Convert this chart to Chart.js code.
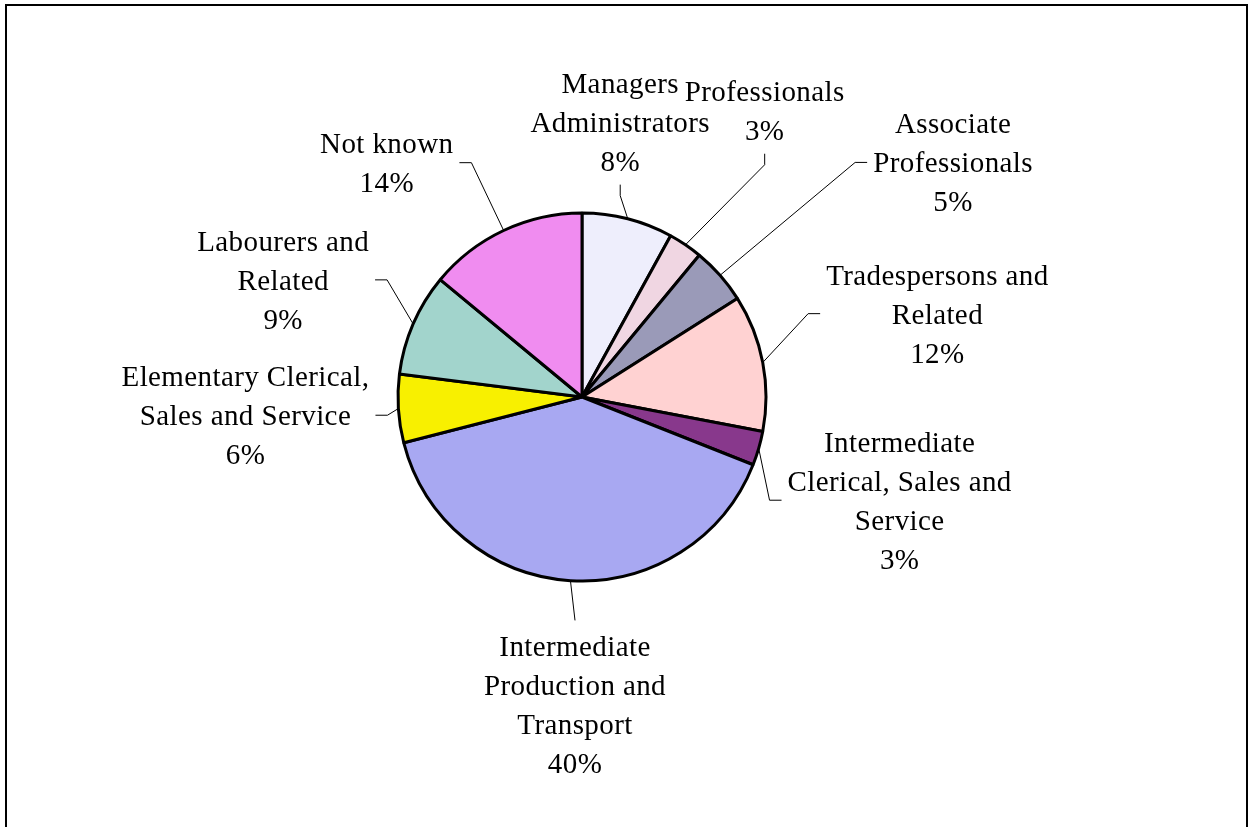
<!DOCTYPE html>
<html>
<head>
<meta charset="utf-8">
<script src="https://cdn.jsdelivr.net/npm/chart.js@4.4.1/dist/chart.umd.min.js"></script>
<style>
  html, body { margin: 0; padding: 0; background: #fff; overflow: hidden; }
  #frame {
    position: absolute; left: 5px; top: 4px; width: 1239px; height: 900px;
    border: 2px solid #000; border-bottom: none;
  }
  #wrap { position: absolute; left: 0; top: 0; width: 1252px; height: 827px; }
</style>
</head>
<body>
<div id="frame"></div>
<div id="wrap"><canvas id="pie"></canvas></div>
<script>
// categories (each split into the lines shown on the chart), clockwise from 12 o'clock
const categories = [
  ["Managers", "Administrators"],
  ["Professionals"],
  ["Associate", "Professionals"],
  ["Tradespersons and", "Related"],
  ["Intermediate", "Clerical, Sales and", "Service"],
  ["Intermediate", "Production and", "Transport"],
  ["Elementary Clerical,", "Sales and Service"],
  ["Labourers and", "Related"],
  ["Not known"],
];
const shares = [8, 3, 5, 12, 3, 40, 6, 9, 14];

const sliceColors = [
  "#eeeefc", "#f0d6e2", "#9a9ab8", "#ffd2d2", "#88388c",
  "#a8a8f2", "#f8f000", "#a2d4cc", "#f08cf0",
];

// label placement: angle shift from slice middle (deg), distance from pie centre (px)
const labelShift = [-6.5, -1.7, 9.1, -2.4, 1.8, -2.3, 0.5, -2.0, -14.6];
const labelDist = [278, 340, 439, 365, 334, 308, 337, 321, 305];

const FONT = '29px "Liberation Serif", "Times New Roman", serif';
const LINE_H = 39;

const outsideLabels = {
  id: "outsideLabels",
  afterDatasetsDraw(chart) {
    const ctx = chart.ctx;
    const meta = chart.getDatasetMeta(0);
    ctx.save();
    ctx.font = FONT;
    ctx.letterSpacing = "0.4px";
    ctx.fillStyle = "#000";
    ctx.textAlign = "center";
    ctx.textBaseline = "alphabetic";
    meta.data.forEach((arc, i) => {
      const p = arc.getProps(["x", "y", "startAngle", "endAngle", "outerRadius"], true);
      const mid = (p.startAngle + p.endAngle) / 2;
      const a = mid + labelShift[i] * Math.PI / 180;
      const cx = p.x + Math.cos(a) * labelDist[i];
      const cy = p.y + Math.sin(a) * labelDist[i];
      const lines = categories[i].concat([shares[i] + "%"]);
      const w = Math.max(...lines.map(l => ctx.measureText(l).width));
      const firstBase = cy - (lines.length - 1) / 2 * LINE_H + 10;
      const lastBase = cy + (lines.length - 1) / 2 * LINE_H + 10;

      // leader line: slice edge -> elbow -> short straight piece next to the label
      const x0 = p.x + Math.cos(mid) * p.outerRadius;
      const y0 = p.y + Math.sin(mid) * p.outerRadius;
      let ex, ey, bx, by;
      const fromVertical = Math.abs(Math.atan2(cx - p.x, p.y - cy)) * 180 / Math.PI;
      if (fromVertical < 36 || fromVertical > 150) {
        ex = cx;
        if (cy < p.y) { ey = lastBase + 14; by = ey + 11; bx = ex; }
        else { ey = firstBase - 36; by = ey; bx = ex; }
      } else {
        ey = cy;
        if (cx > p.x) { ex = cx - w / 2 - 6; bx = ex - 12; }
        else { ex = cx + w / 2 + 6; bx = ex + 12; }
        by = ey;
      }
      ctx.beginPath();
      ctx.strokeStyle = "#000";
      ctx.lineWidth = 1;
      ctx.moveTo(x0, y0);
      ctx.lineTo(bx, by);
      ctx.lineTo(ex, ey);
      ctx.stroke();

      lines.forEach((l, k) => {
        ctx.fillText(l, cx, firstBase + k * LINE_H);
      });
    });
    ctx.restore();
  },
};

new Chart(document.getElementById("pie"), {
  type: "pie",
  data: {
    labels: categories,
    datasets: [{
      data: shares,
      backgroundColor: sliceColors,
      borderColor: "#000",
      borderWidth: 3,
      radius: 184,
    }],
  },
  options: {
    responsive: true,
    maintainAspectRatio: false,
    animation: false,
    events: [],
    layout: { padding: { left: 0, right: 88, top: 0, bottom: 33 } },
    plugins: {
      legend: { display: false },
      tooltip: { enabled: false },
    },
  },
  plugins: [outsideLabels],
});
</script>
</body>
</html>
